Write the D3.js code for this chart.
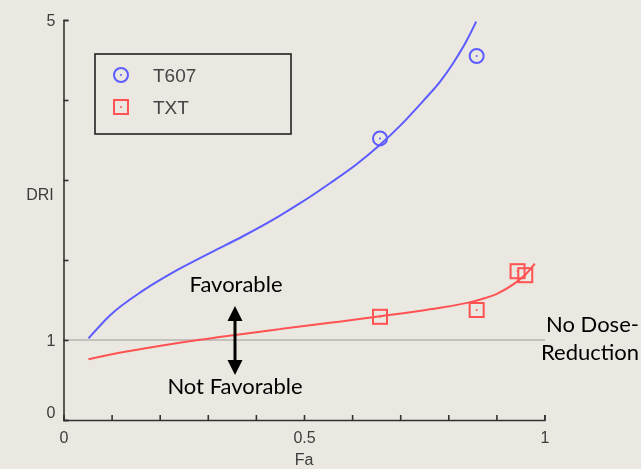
<!DOCTYPE html>
<html>
<head>
<meta charset="utf-8">
<script src="https://cdn.jsdelivr.net/npm/d3@7"></script>
<style>
  html, body { margin: 0; padding: 0; background: #ebe8e2; }
  svg { display: block; }
  .ax text { font-family: "Liberation Sans", Arial, sans-serif; font-size: 16px; fill: #3c3c3c; }
  .note { font-family: Lato, "Open Sans", sans-serif; font-size: 22px; fill: #000; }
</style>
</head>
<body>
<svg id="chart" width="641" height="469"></svg>
<script>
// Fa–DRI plot: dose-reduction index of each drug across fraction affected

// Fitted DRI curve for T607 (Fa, DRI)
const t607CurveFa  = [0.052, 0.097, 0.166, 0.235, 0.305, 0.374, 0.443, 0.492, 0.554, 0.610, 0.658, 0.700, 0.748, 0.783, 0.810, 0.838, 0.858];
const t607CurveDri = [1.02, 1.31, 1.62, 1.87, 2.09, 2.30, 2.53, 2.71, 2.96, 3.20, 3.44, 3.68, 3.99, 4.23, 4.46, 4.74, 4.98];
// Observed T607 points
const t607PointFa  = [0.658, 0.859];
const t607PointDri = [3.52, 4.55];

// Fitted DRI curve for TXT
const txtCurveFa  = [0.052, 0.131, 0.235, 0.353, 0.450, 0.554, 0.658, 0.762, 0.852, 0.901, 0.935, 0.963, 0.980];
const txtCurveDri = [0.76, 0.855, 0.96, 1.06, 1.136, 1.215, 1.296, 1.384, 1.483, 1.576, 1.695, 1.835, 1.955];
// Observed TXT points
const txtPointFa  = [0.658, 0.859, 0.944, 0.960];
const txtPointDri = [1.29, 1.375, 1.86, 1.81];

// Axis ticks
const xTicks = [0, 0.1, 0.2, 0.3, 0.4, 0.5, 0.6, 0.7, 0.8, 0.9, 1];
const xTickLabels = ["0", "", "", "", "", "0.5", "", "", "", "", "1"];
const yTicks = [0, 1, 2, 3, 4, 5];
const yTickLabels = ["0", "1", "", "", "", "5"];

const series = [
  { name: "T607", color: "#5b5bff", shape: "circle",
    curve: t607CurveFa.map((f, i) => [f, t607CurveDri[i]]),
    points: t607PointFa.map((f, i) => [f, t607PointDri[i]]) },
  { name: "TXT", color: "#ff5252", shape: "square",
    curve: txtCurveFa.map((f, i) => [f, txtCurveDri[i]]),
    points: txtPointFa.map((f, i) => [f, txtPointDri[i]]) }
];

const svg = d3.select("#chart");
const x = d3.scaleLinear().domain([0, 1]).range([63.5, 544.5]);
const y = d3.scaleLinear().domain([0, 5]).range([420, 20]);

const defs = svg.append("defs");
defs.append("filter").attr("id", "soft")
  .attr("x", "-5%").attr("y", "-5%").attr("width", "110%").attr("height", "110%")
  .append("feGaussianBlur").attr("stdDeviation", 0.6);

const plot = svg.append("g").attr("filter", "url(#soft)");

// no-dose-reduction reference at DRI = 1
plot.append("line")
  .attr("x1", x(0)).attr("x2", x(1))
  .attr("y1", y(1)).attr("y2", y(1))
  .attr("stroke", "#9a9a9a").attr("stroke-width", 2.2)
  .attr("stroke-dasharray", "1,1");

// axes
const xAxis = d3.axisBottom(x).tickValues(xTicks)
  .tickFormat((d, i) => xTickLabels[i]).tickSize(-5).tickSizeOuter(-5).tickPadding(12);
const yAxis = d3.axisLeft(y).tickValues(yTicks)
  .tickFormat((d, i) => yTickLabels[i]).tickSize(-5).tickSizeOuter(-5).tickPadding(8);

const gx = plot.append("g").attr("class", "ax").attr("transform", `translate(0,${y(0)})`).call(xAxis);
const gy = plot.append("g").attr("class", "ax").attr("transform", `translate(${x(0)},0)`).call(yAxis);
[gx, gy].forEach(g => {
  g.select(".domain").attr("stroke", "#333").attr("stroke-width", 1.6);
  g.selectAll(".tick line").attr("stroke", "#333").attr("stroke-width", 1.6);
});
// lift the lowest y label clear of the x axis
gy.selectAll(".tick text").filter(d => d === 0).attr("dy", "-0.15em");

plot.append("text")
  .attr("x", x(0.5)).attr("y", 465).attr("text-anchor", "middle")
  .style("font-family", "Liberation Sans, Arial, sans-serif").style("font-size", "16px").style("fill", "#3c3c3c")
  .text("Fa");
plot.append("text")
  .attr("x", 40).attr("y", 200).attr("text-anchor", "middle")
  .style("font-family", "Liberation Sans, Arial, sans-serif").style("font-size", "16px").style("fill", "#3c3c3c")
  .text("DRI");

// curves
const line = d3.line().x(d => x(d[0])).y(d => y(d[1])).curve(d3.curveMonotoneX);
series.forEach(s => {
  plot.append("path").datum(s.curve)
    .attr("d", line).attr("fill", "none")
    .attr("stroke", s.color).attr("stroke-width", 2);
});

// markers
function marker(g, s, cx, cy) {
  if (s.shape === "circle") {
    g.append("circle").attr("cx", cx).attr("cy", cy).attr("r", 7)
      .attr("fill", "none").attr("stroke", s.color).attr("stroke-width", 2);
  } else {
    g.append("rect").attr("x", cx - 7).attr("y", cy - 7).attr("width", 14).attr("height", 14)
      .attr("fill", "none").attr("stroke", s.color).attr("stroke-width", 2);
  }
  g.append("circle").attr("cx", cx).attr("cy", cy).attr("r", 1).attr("fill", s.color);
}
series.forEach(s => {
  const g = plot.append("g");
  s.points.forEach(p => marker(g, s, x(p[0]), y(p[1])));
});

// legend
const legend = plot.append("g");
legend.append("rect").attr("x", 95).attr("y", 54).attr("width", 196).attr("height", 80)
  .attr("fill", "none").attr("stroke", "#222").attr("stroke-width", 1.6);
series.forEach((s, i) => {
  const cy = 75 + i * 32;
  marker(legend, s, 121, cy);
  legend.append("text").attr("x", 153).attr("y", cy + 7)
    .style("font-family", "Liberation Sans, Arial, sans-serif").style("font-size", "19px")
    .style("fill", "#444")
    .text(s.name);
});

// annotations
const ann = svg.append("g");
ann.append("text").attr("class", "note").attr("x", 236).attr("y", 292).attr("text-anchor", "middle").text("Favorable");
ann.append("text").attr("class", "note").attr("x", 235).attr("y", 394).attr("text-anchor", "middle").text("Not Favorable");
ann.append("text").attr("class", "note").attr("x", 546).attr("y", 332).text("No Dose-");
ann.append("text").attr("class", "note").attr("x", 541).attr("y", 360).text("Reduction");

const arrowX = 235, arrowTop = 306, arrowBot = 375, headW = 7.5, headL = 15;
ann.append("line").attr("x1", arrowX).attr("x2", arrowX)
  .attr("y1", arrowTop + headL - 2).attr("y2", arrowBot - headL + 2)
  .attr("stroke", "#000").attr("stroke-width", 3);
ann.append("path").attr("d", `M${arrowX},${arrowTop}L${arrowX - headW},${arrowTop + headL}L${arrowX + headW},${arrowTop + headL}Z`).attr("fill", "#000");
ann.append("path").attr("d", `M${arrowX},${arrowBot}L${arrowX - headW},${arrowBot - headL}L${arrowX + headW},${arrowBot - headL}Z`).attr("fill", "#000");
</script>
</body>
</html>
